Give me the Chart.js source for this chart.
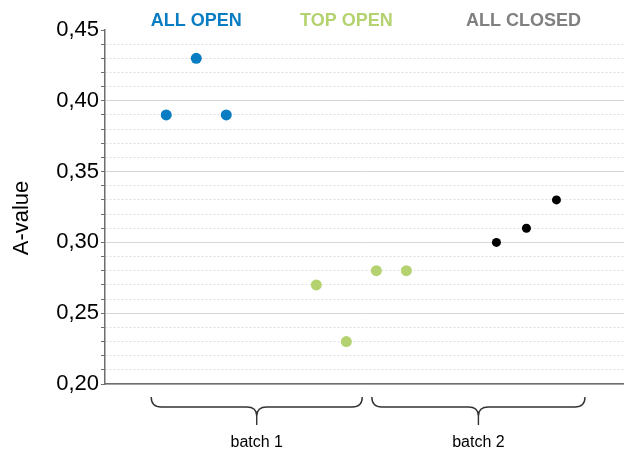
<!DOCTYPE html>
<html>
<head>
<meta charset="utf-8">
<script src="https://cdn.jsdelivr.net/npm/chart.js@4/dist/chart.umd.min.js"></script>
<style>
  body { margin: 0; background: #fff; }
  canvas { display: block; }
</style>
</head>
<body>
<canvas id="a-chart" width="624" height="451"></canvas>
<script>
// sample positions along the x axis and measured A-values
const allOpenX = [2, 3, 4];
const allOpenY = [0.39, 0.43, 0.39];
const topOpenX = [7, 8, 9, 10];
const topOpenY = [0.27, 0.23, 0.28, 0.28];
const allClosedX = [13, 14, 15];
const allClosedY = [0.30, 0.31, 0.33];

const groupNames = ['ALL OPEN', 'TOP OPEN', 'ALL CLOSED'];
const groupColors = ['#0a7dc2', '#b4d270', '#808080'];
const groupLabelX = [3, 8, 13.9];

const batchNames = ['batch 1', 'batch 2'];
const batchFrom = [1.5, 8.85];
const batchTo = [8.53, 15.95];

const yMin = 0.20;
const yMax = 0.45;

function toPoints(xs, ys) {
    return xs.map((x, i) => ({ x: x, y: ys[i] }));
}

function isMajor(v) {
    return Math.round(v * 100) % 5 === 0;
}

const annotations = {
    id: 'annotations',
    afterDraw(chart) {
        const ctx = chart.ctx;
        const xs = chart.scales.x;
        const area = chart.chartArea;
        ctx.save();

        // group headings
        ctx.font = 'bold 18px "Liberation Sans", Arial, sans-serif';
        ctx.textAlign = 'center';
        ctx.textBaseline = 'alphabetic';
        groupNames.forEach((name, i) => {
            ctx.fillStyle = groupColors[i];
            ctx.fillText(name, xs.getPixelForValue(groupLabelX[i]), 26);
        });

        // y title
        ctx.save();
        ctx.translate(22, 218);
        ctx.rotate(-Math.PI / 2);
        ctx.font = '22px "Liberation Sans", Arial, sans-serif';
        ctx.fillStyle = '#000';
        ctx.textBaseline = 'middle';
        ctx.fillText('A-value', 0, 0);
        ctx.restore();

        // braces under the axis
        const top = area.bottom + 13;
        const mid = area.bottom + 23;
        const tip = area.bottom + 41;
        const r = 10;
        ctx.strokeStyle = '#333';
        ctx.lineWidth = 1.4;
        ctx.font = '16px "Liberation Sans", Arial, sans-serif';
        ctx.fillStyle = '#000';
        batchNames.forEach((name, i) => {
            const x0 = xs.getPixelForValue(batchFrom[i]);
            const x1 = xs.getPixelForValue(batchTo[i]);
            const xc = (x0 + x1) / 2;
            ctx.beginPath();
            ctx.moveTo(x0, top);
            ctx.quadraticCurveTo(x0, mid, x0 + r, mid);
            ctx.lineTo(xc - r, mid);
            ctx.quadraticCurveTo(xc, mid, xc, mid + 9);
            ctx.quadraticCurveTo(xc, mid, xc + r, mid);
            ctx.lineTo(x1 - r, mid);
            ctx.quadraticCurveTo(x1, mid, x1, top);
            ctx.moveTo(xc, mid + 9);
            ctx.lineTo(xc, tip);
            ctx.stroke();
            ctx.fillText(name, xc, area.bottom + 63);
        });
        ctx.restore();
    }
};

const ctx = document.getElementById('a-chart').getContext('2d');
new Chart(ctx, {
    type: 'scatter',
    data: {
        datasets: [
            {
                label: groupNames[0],
                data: toPoints(allOpenX, allOpenY),
                backgroundColor: groupColors[0],
                borderWidth: 0,
                pointRadius: 5.5
            },
            {
                label: groupNames[1],
                data: toPoints(topOpenX, topOpenY),
                backgroundColor: groupColors[1],
                borderWidth: 0,
                pointRadius: 5.5
            },
            {
                label: groupNames[2],
                data: toPoints(allClosedX, allClosedY),
                backgroundColor: '#000',
                borderWidth: 0,
                pointRadius: 4.5
            }
        ]
    },
    options: {
        responsive: false,
        animation: false,
        layout: {
            autoPadding: false,
            padding: { top: 30, right: 0, left: 0, bottom: 0 }
        },
        plugins: {
            legend: { display: false },
            tooltip: { enabled: false }
        },
        scales: {
            x: {
                type: 'linear',
                min: -0.04,
                max: 17.25,
                ticks: { display: false },
                grid: { display: false, drawTicks: false },
                border: { display: true, color: '#6e6e6e', width: 1.5 },
                afterFit(scale) { scale.height = 67; }
            },
            y: {
                min: yMin,
                max: yMax,
                ticks: {
                    stepSize: 0.01,
                    autoSkip: false,
                    padding: 2,
                    color: '#000',
                    font: { family: '"Liberation Sans", Arial, sans-serif', size: 22 },
                    callback: (v) => isMajor(v) ? v.toFixed(2).replace('.', ',') : ''
                },
                grid: {
                    drawTicks: true,
                    tickLength: 4,
                    tickColor: '#6e6e6e',
                    tickWidth: 1,
                    lineWidth: 1,
                    color: (c) => {
                        if (!c.tick) return '#ddd';
                        if (Math.round(c.tick.value * 100) === 45) return 'rgba(0,0,0,0)';
                        return isMajor(c.tick.value) ? '#d6d6d6' : '#e0e0e0';
                    }
                },
                border: {
                    display: true,
                    color: '#6e6e6e',
                    width: 1.5,
                    dash: (c) => (c.tick && !isMajor(c.tick.value)) ? [2, 2] : []
                },
                afterFit(scale) { scale.width = 105; }
            }
        }
    },
    plugins: [annotations]
});
</script>
</body>
</html>
